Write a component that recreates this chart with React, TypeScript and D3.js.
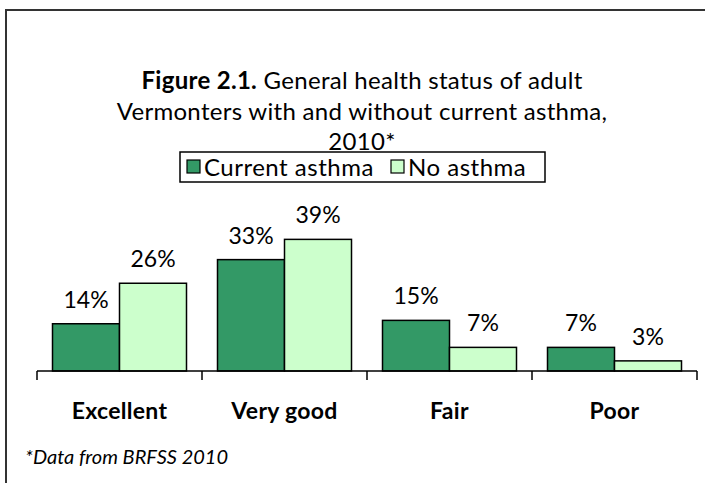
import React from "react";
import * as d3 from "d3";

const categories = ["Excellent", "Very good", "Fair", "Poor"];
const seriesNames = ["Current asthma", "No asthma"];
const currentAsthma = [14, 33, 15, 7];
const noAsthma = [26, 39, 7, 3];
const colors = ["#339966", "#CCFFCC"];

const W = 705;
const H = 483;
const FONT = "Lato, 'Open Sans', sans-serif";

export default function App() {
  const x0 = d3.scaleBand<string>().domain(categories).range([37, 697]).padding(0);
  const x1 = d3
    .scaleBand<string>()
    .domain(seriesNames)
    .range([15.5, x0.bandwidth() - 15.5])
    .padding(0);
  const y = d3.scaleLinear().domain([0, 40]).range([371, 236]);
  const series = [currentAsthma, noAsthma];
  const ticks = [...categories.map((c) => x0(c)!), 697];

  return (
    <svg
      width={W}
      height={H}
      style={{ position: "absolute", left: 0, top: 0, background: "#fff" }}
      fontFamily={FONT}
    >
      <rect x={0} y={0} width={W} height={H} fill="#fff" />
      <rect x={6} y={10} width={W + 20} height={H + 20} fill="none" stroke="#333" strokeWidth={2} />

      <text x={362} y={89} textAnchor="middle" fontSize={24} letterSpacing={0.3} fill="#000">
        <tspan fontWeight="bold">Figure 2.1.</tspan>
        <tspan> General health status of adult</tspan>
      </text>
      <text x={362} y={120} textAnchor="middle" fontSize={24} letterSpacing={0.3} fill="#000">
        Vermonters with and without current asthma,
      </text>
      <text x={362} y={150} textAnchor="middle" fontSize={24} letterSpacing={0.3} fill="#000">
        2010*
      </text>

      <g>
        <rect x={180} y={152} width={365} height={30} fill="#fff" stroke="#000" strokeWidth={1.5} />
        <rect x={187} y={160} width={13} height={13} fill={colors[0]} stroke="#000" strokeWidth={1.2} />
        <text x={204} y={176} fontSize={24} letterSpacing={0.5}>
          {seriesNames[0]}
        </text>
        <rect x={391} y={160} width={13} height={13} fill={colors[1]} stroke="#000" strokeWidth={1.2} />
        <text x={408} y={176} fontSize={24} letterSpacing={0.5}>
          {seriesNames[1]}
        </text>
      </g>

      {categories.map((c, i) => (
        <g key={c} transform={`translate(${x0(c)},0)`}>
          {seriesNames.map((s, j) => {
            const v = series[j][i];
            const bx = x1(s)!;
            return (
              <g key={s}>
                <rect
                  x={bx}
                  y={y(v)}
                  width={x1.bandwidth()}
                  height={y(0) - y(v)}
                  fill={colors[j]}
                  stroke="#000"
                  strokeWidth={1.5}
                />
                <text
                  x={bx + x1.bandwidth() / 2}
                  y={y(v) - 16}
                  textAnchor="middle"
                  fontSize={23}
                >
                  {v}%
                </text>
              </g>
            );
          })}
          <text
            x={x0.bandwidth() / 2}
            y={419}
            textAnchor="middle"
            fontSize={23}
            fontWeight="bold"
            letterSpacing={0.3}
          >
            {c}
          </text>
        </g>
      ))}

      <line x1={37} x2={697} y1={371} y2={371} stroke="#000" strokeWidth={1.5} />
      {ticks.map((t, i) => (
        <line key={i} x1={t} x2={t} y1={371} y2={380} stroke="#000" strokeWidth={1.5} />
      ))}

      <text x={25} y={464} fontSize={20} fontStyle="italic">
        *Data from BRFSS 2010
      </text>
    </svg>
  );
}
